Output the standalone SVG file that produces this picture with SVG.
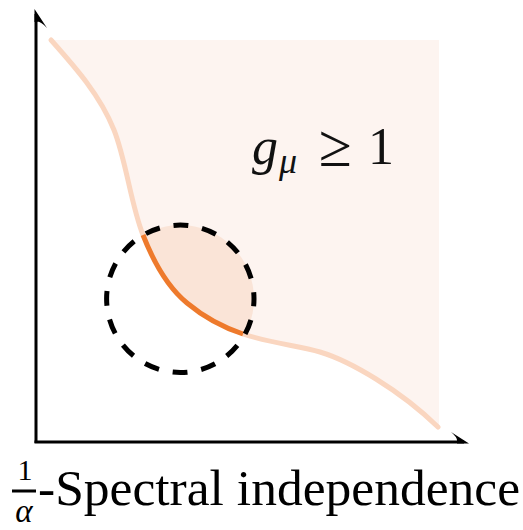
<svg xmlns="http://www.w3.org/2000/svg" width="523" height="530" viewBox="0 0 523 530">
<style>
.region{fill:#fdf4f0;stroke:none}
.overlap{fill:#fae4d7;stroke:none}
.curve{fill:none;stroke:#fad6c0;stroke-width:5;stroke-linecap:round}
.curve-dark{fill:none;stroke:#ee7a2c;stroke-width:5}
.axis{fill:none;stroke:#000;stroke-width:3}
.head{fill:#000;stroke:none}
.dash{fill:none;stroke:#000;stroke-width:5;stroke-dasharray:15 13.94;stroke-dashoffset:7.44}
.math{font-family:"Liberation Serif","DejaVu Serif",serif;fill:#111}
.label{font-family:"Liberation Serif","DejaVu Serif",serif;fill:#000}
</style>
<defs>
<clipPath id="circleClip"><circle cx="180.3" cy="298.8" r="73.7"/></clipPath>
<path id="regionPath" d="M51,40 C75,67 100,95 114,130 C126,160 131,205 143,235 C152,258 165,285 187,303 C205,318 225,328 243,334 C270,343 300,346 320,352 C350,361 400,390 438,427 L439,427 L439,40 Z"/>
</defs>
<g id="region">
<use href="#regionPath" class="region"/>
<use href="#regionPath" class="overlap" clip-path="url(#circleClip)"/>
</g>
<g id="boundary">
<path class="curve" d="M51,40 C75,67 100,95 114,130 C126,160 131,205 143,235"/>
<path class="curve" d="M243,334 C270,343 300,346 320,352 C350,361 400,390 438,427"/>
<path class="curve-dark" d="M143,235 C152,258 165,285 187,303 C205,318 225,328 243,334"/>
</g>
<g id="neighbourhood">
<circle class="dash" cx="180.3" cy="298.8" r="73.7"/>
</g>
<g id="axes">
<path class="axis" d="M36,443 L36,14"/>
<path class="head" d="M34.5,9 L47,28 Q41,21.5 37.5,21.5 L37.5,22 L34.5,22 Z"/>
<path class="axis" d="M34.5,442 L464,442"/>
<path class="head" d="M469,443.5 L451,432 Q457,437 457,440.5 L457,443.5 Z"/>
</g>
<g id="condition">
<text class="math" x="252" y="164" font-size="52" font-style="italic">g</text>
<text class="math" x="279" y="173" font-size="36" font-style="italic">μ</text>
<text class="math" x="319" y="166" font-size="60">≥</text>
<text class="math" x="368" y="164" font-size="52">1</text>
</g>
<g id="xlabel">
<text class="label" x="25" y="480" font-size="30" text-anchor="middle">1</text>
<rect x="12" y="489.5" width="24" height="3" fill="#000"/>
<text class="label" x="24" y="522" font-size="33" font-style="italic" text-anchor="middle">α</text>
<text class="label" x="38" y="505" font-size="50" textLength="482" lengthAdjust="spacingAndGlyphs">-Spectral independence</text>
</g>
</svg>
